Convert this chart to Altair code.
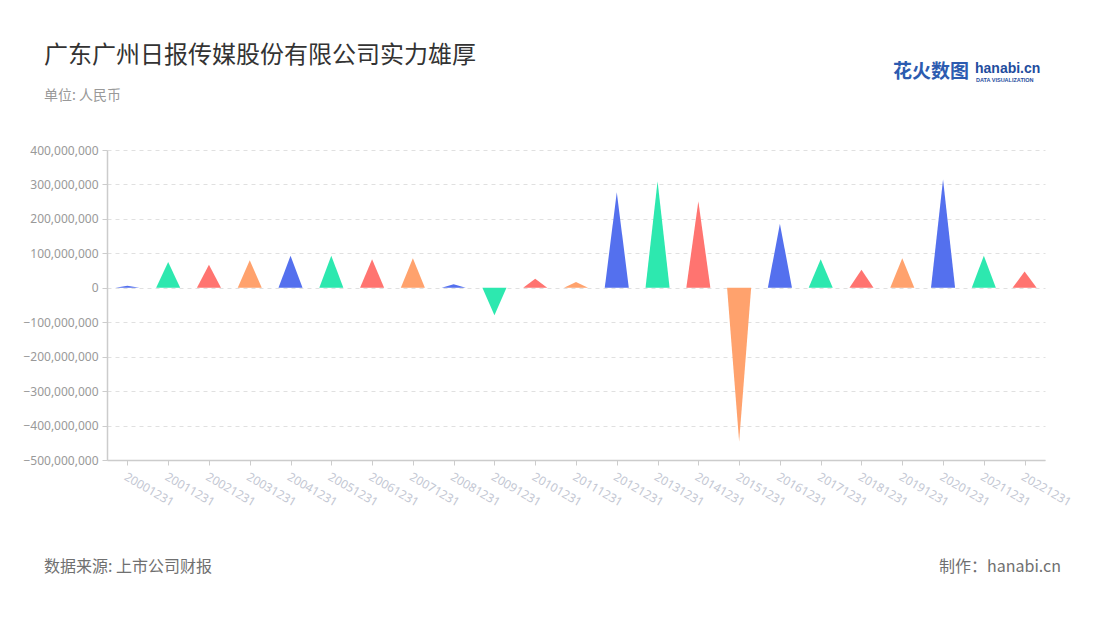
import altair as alt
import pandas as pd

# ---- data ----
categories = ["20001231", "20011231", "20021231", "20031231", "20041231", "20051231",
              "20061231", "20071231", "20081231", "20091231", "20101231", "20111231",
              "20121231", "20131231", "20141231", "20151231", "20161231", "20171231",
              "20181231", "20191231", "20201231", "20211231", "20221231"]
values = [6e6, 75e6, 67e6, 80e6, 93e6, 93e6, 83e6, 86e6, 10e6, -80e6, 26e6, 17e6,
          277e6, 309e6, 251e6, -446e6, 186e6, 83e6, 52e6, 86e6, 314e6, 93e6, 47e6]
palette = ["#5470ee", "#2de8af", "#ff7470", "#ffa26d"]
y_ticks = [400e6, 300e6, 200e6, 100e6, 0, -100e6, -200e6, -300e6, -400e6, -500e6]

HALF = 0.295  # half width of each triangle in band units

rows = []
for i, (c, v) in enumerate(zip(categories, values)):
    g = str(i % 4)
    rows.append({"cat": c, "grp": g, "x": i - HALF, "y": 0.0})
    rows.append({"cat": c, "grp": g, "x": float(i), "y": v})
    rows.append({"cat": c, "grp": g, "x": i + HALF, "y": 0.0})
df = pd.DataFrame(rows)

W, H = 938, 310
label_arr = "[" + ",".join("'%s'" % c for c in categories) + "]"

bars = alt.Chart(df).mark_area(interpolate="linear", opacity=1).encode(
    x=alt.X("x:Q",
            scale=alt.Scale(domain=[-0.5, len(categories) - 0.5], nice=False, zero=False),
            axis=alt.Axis(values=list(range(len(categories))), labelExpr=label_arr + "[datum.value]",
                          title=None, grid=False, labelAngle=30, labelAlign="left",
                          labelBaseline="top", labelColor="#c3c7d3", labelFontSize=12,
                          labelFont="Noto Sans", labelPadding=6, tickColor="#cccccc",
                          tickSize=5, domainColor="#cccccc", domainWidth=1.5,
                          labelOverlap=False, labelBound=False, labelFlush=False)),
    y=alt.Y("y:Q", stack=None,
            scale=alt.Scale(domain=[-500e6, 400e6], nice=False),
            axis=alt.Axis(values=y_ticks, format=",d", title=None, labelColor="#999999",
                          labelFontSize=12, labelFont="Noto Sans", labelPadding=4,
                          tickColor="#cccccc", tickSize=5, domainColor="#cccccc",
                          domainWidth=1.5, gridColor="#e0e0e0", gridDash=[4, 4],
                          gridWidth=1)),
    color=alt.Color("grp:N", scale=alt.Scale(domain=["0", "1", "2", "3"], range=palette),
                    legend=None),
    detail="cat:N",
)

def txt(t, x, y, size, color, align="left", weight="normal", font="Noto Sans CJK SC"):
    return alt.Chart(pd.DataFrame({"t": [t]})).mark_text(
        align=align, baseline="middle", fontSize=size, color=color, fontWeight=weight,
        font=font).encode(text="t:N", x=alt.value(x), y=alt.value(y))

OX, OY = 107, 150  # page position of plot origin
layers = [
    bars,
    txt("广东广州日报传媒股份有限公司实力雄厚", 44 - OX, 56 - OY, 24, "#333333"),
    txt("单位: 人民币", 44 - OX, 96 - OY, 14, "#999999"),
    txt("数据来源: 上市公司财报", 44 - OX, 567 - OY, 16, "#707070"),
    txt("制作：hanabi.cn", 1061 - OX, 567 - OY, 16, "#707070", align="right"),
    txt("花火数图", 893 - OX, 72 - OY, 19, "#2c5bb0", weight="bold"),
    txt("hanabi.cn", 975 - OX, 69 - OY, 14, "#1f4d9e", weight="bold", font="Liberation Sans"),
    txt("DATA VISUALIZATION", 976 - OX, 80 - OY, 5.5, "#1f4d9e", weight="bold", font="Liberation Sans"),
]

chart = alt.layer(*layers).properties(
    width=W, height=H,
    autosize=alt.AutoSizeParams(type="none"),
    padding={"left": OX - 8, "top": OY - 8, "right": 40, "bottom": 150},
    background="#ffffff",
).configure_view(stroke=None)

chart.save("out.html", embed_options={"renderer": "svg", "actions": False})
